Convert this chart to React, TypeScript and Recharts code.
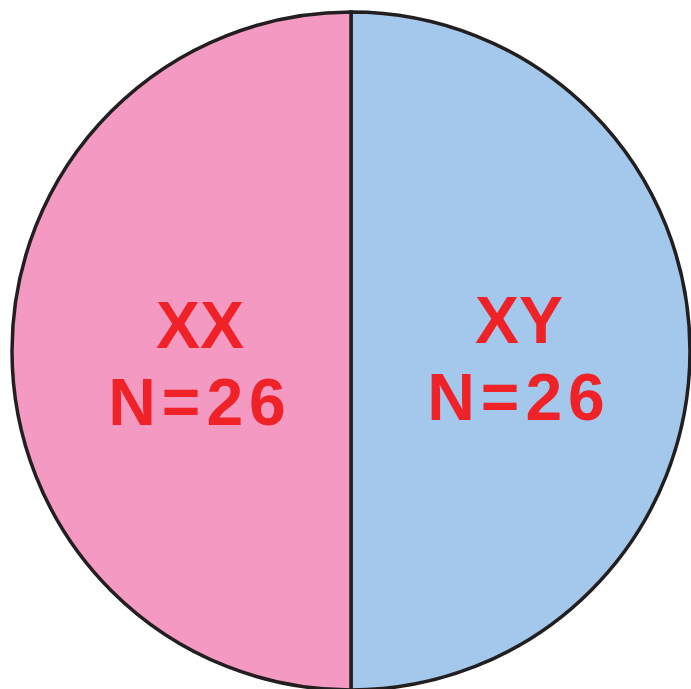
import React from "react";
import { PieChart, Pie, Cell } from "recharts";

const categories = ["XY", "XX"];
const counts = [26, 26];
const colors = ["#a3c8eb", "#f49ac2"];

const data = categories.map((name, i) => ({ name, value: counts[i] }));

const renderLabel = (props: any) => {
  const { cx, cy, midAngle, index, name, value } = props;
  const RAD = Math.PI / 180;
  const r = index === 0 ? 168 : 151;
  const x = cx + r * Math.cos(-midAngle * RAD);
  const y = cy + r * Math.sin(-midAngle * RAD) + (index === 0 ? -8 : -3);
  return (
    <text
      x={x}
      y={y}
      textAnchor="middle"
      fill="#ee2227"
      fontFamily="'Liberation Sans', Arial, sans-serif"
      fontWeight="bold"
      fontSize={66}
    >
      <tspan x={x} dy={0}>{name}</tspan>
      <tspan x={x} dy={77} letterSpacing={6}>{`N=${value}`}</tspan>
    </text>
  );
};

export default function App() {
  return (
    <div style={{ position: "absolute", left: 0, top: 0, width: 691, height: 689, background: "#fff", overflow: "hidden" }}>
      <PieChart width={691} height={689} margin={{ top: 0, right: 0, bottom: 0, left: 0 }}>
        <Pie
          data={data}
          dataKey="value"
          nameKey="name"
          cx={351}
          cy={351}
          outerRadius={339}
          startAngle={90}
          endAngle={-270}
          stroke="#231f20"
          strokeWidth={3.5}
          label={renderLabel}
          labelLine={false}
          isAnimationActive={false}
        >
          {data.map((d, i) => (
            <Cell key={d.name} fill={colors[i]} />
          ))}
        </Pie>
      </PieChart>
    </div>
  );
}
